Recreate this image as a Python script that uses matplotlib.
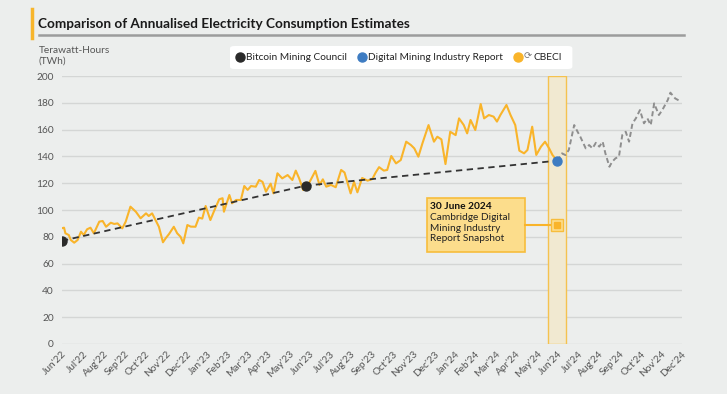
import numpy as np
import pandas as pd
import matplotlib.pyplot as plt
import matplotlib.dates as mdates
from matplotlib.lines import Line2D
from matplotlib.patches import Rectangle, FancyBboxPatch

plt.rcParams['font.family'] = ['Lato', 'DejaVu Sans']

# CBECI estimate (TWh)
cbeci_dates = [
    '2022-06-29', '2022-07-03', '2022-07-05', '2022-07-10', '2022-07-13', '2022-07-18',
    '2022-07-23', '2022-07-28', '2022-08-01', '2022-08-06', '2022-08-11', '2022-08-16',
    '2022-08-24', '2022-08-29', '2022-09-03', '2022-09-10', '2022-09-15', '2022-09-20',
    '2022-09-27', '2022-10-02', '2022-10-09', '2022-10-17', '2022-10-24', '2022-11-01',
    '2022-11-05', '2022-11-10', '2022-11-15', '2022-11-20', '2022-11-26', '2022-11-30',
    '2022-12-05', '2022-12-12', '2022-12-17', '2022-12-22', '2022-12-26', '2023-01-01',
    '2023-01-06', '2023-01-13', '2023-01-18', '2023-01-23', '2023-01-28', '2023-02-04',
    '2023-02-09', '2023-02-17', '2023-02-22', '2023-02-24', '2023-03-04', '2023-03-08',
    '2023-03-14', '2023-03-21', '2023-03-26', '2023-03-31', '2023-04-05', '2023-04-12',
    '2023-04-17', '2023-04-22', '2023-04-27', '2023-05-04', '2023-05-08', '2023-05-14',
    '2023-05-21', '2023-05-29', '2023-06-05', '2023-06-10', '2023-06-15', '2023-06-21',
    '2023-06-27', '2023-07-02', '2023-07-09', '2023-07-15', '2023-07-20', '2023-07-25',
    '2023-08-01', '2023-08-08', '2023-08-16', '2023-08-21', '2023-08-25', '2023-08-30',
    '2023-09-04', '2023-09-09', '2023-09-16', '2023-09-24', '2023-10-01', '2023-10-06',
    '2023-10-11', '2023-10-18', '2023-10-23', '2023-10-29', '2023-11-05', '2023-11-12',
    '2023-11-20', '2023-11-27', '2023-12-02', '2023-12-08', '2023-12-14', '2023-12-23',
    '2023-12-31', '2024-01-05', '2024-01-11', '2024-01-17', '2024-01-24', '2024-02-01',
    '2024-02-06', '2024-02-13', '2024-02-18', '2024-02-23', '2024-03-01', '2024-03-09',
    '2024-03-14', '2024-03-21', '2024-03-28', '2024-04-02', '2024-04-07', '2024-04-16',
    '2024-04-22', '2024-04-29', '2024-05-05', '2024-05-12', '2024-05-17', '2024-05-24',
    '2024-05-30', '2024-06-06', '2024-06-12', '2024-06-18', '2024-06-23', '2024-06-28',
]
cbeci_values = [
    86.3, 86.8, 82.6, 81.3, 77.6, 75.6,
    77.6, 83.8, 81.3, 85.6, 86.8, 82.6,
    91.3, 91.8, 87.5, 90.5, 89.6, 90.0,
    86.3, 91.3, 102.5, 98.7, 93.8, 97.5,
    95.5, 97.5, 92.5, 87.5, 75.9, 78.9,
    82.1, 87.5, 82.6, 80.0, 75.1, 88.8,
    87.6, 87.5, 94.3, 93.6, 103.0, 92.5,
    98.7, 108.0, 108.8, 98.7, 111.2, 105.0,
    107.5, 107.5, 117.9, 115.0, 117.9, 117.4,
    122.4, 121.0, 113.7, 119.7, 112.4, 127.4,
    123.6, 126.1, 122.4, 129.4, 123.6, 114.9,
    117.4, 122.4, 129.2, 118.7, 122.9, 117.4,
    118.7, 117.0, 129.9, 128.0, 121.0, 112.4,
    121.0, 113.2, 123.9, 121.9, 123.1, 128.0,
    132.0, 129.4, 129.9, 140.3, 134.8, 137.3,
    151.0, 148.5, 146.0, 139.8, 149.8, 163.4,
    151.0, 154.7, 152.7, 134.3, 158.4, 155.9,
    168.4, 163.4, 157.2, 167.2, 159.7, 179.1,
    168.4, 170.9, 169.7, 166.0, 170.9, 178.4,
    170.9, 163.4, 144.3, 142.3, 144.8, 162.2,
    141.1, 147.3, 151.0, 146.0, 141.0, 138.0,
]

# CBECI after the snapshot date (grey dashed)
later_dates = [
    '2024-06-30', '2024-07-07', '2024-07-12', '2024-07-17', '2024-07-25', '2024-07-30',
    '2024-08-03', '2024-08-11', '2024-08-16', '2024-08-21', '2024-08-26', '2024-08-31',
    '2024-09-05', '2024-09-09', '2024-09-15', '2024-09-19', '2024-09-24', '2024-09-29',
    '2024-10-04', '2024-10-09', '2024-10-14', '2024-10-19', '2024-10-24', '2024-10-30',
    '2024-11-05', '2024-11-10', '2024-11-15', '2024-11-20', '2024-11-27', '2024-12-02',
    '2024-12-10', '2024-12-14', '2024-12-21', '2024-12-30',
]
later_values = [
    136.8, 142.3, 141.0, 144.8, 163.4, 158.4,
    154.7, 146.0, 148.5, 146.0, 150.2, 147.3,
    151.0, 142.3, 132.3, 136.0, 138.6, 139.8,
    156.0, 158.4, 151.0, 164.7, 168.4, 174.6,
    164.7, 168.4, 163.4, 179.6, 170.9, 174.6,
    182.0, 187.6, 183.3, 180.8,
]

bmc_dates = ['2022-06-30', '2023-06-25']
bmc_values = [77.0, 118.2]
dmir_date = '2024-06-30'
dmir_value = 136.8

month_labels = ["Jun'22", "Jul'22", "Aug'22", "Sep'22", "Oct'22", "Nov'22", "Dec'22",
                "Jan'23", "Feb'23", "Mar'23", "Apr'23", "May'23", "Jun'23", "Jul'23",
                "Aug'23", "Sep'23", "Oct'23", "Nov'23", "Dec'23", "Jan'24", "Feb'24",
                "Mar'24", "Apr'24", "May'24", "Jun'24", "Jul'24", "Aug'24", "Sep'24",
                "Oct'24", "Nov'24", "Dec'24"]

bg = '#ECEEED'
orange = '#F9B42A'

cbeci_x = pd.to_datetime(cbeci_dates)
later_x = pd.to_datetime(later_dates)
bmc_x = pd.to_datetime(bmc_dates)
dmir_x = pd.Timestamp(dmir_date)
month_ticks = pd.date_range('2022-06-30', periods=len(month_labels), freq='ME')

fig = plt.figure(figsize=(7.27, 3.94), dpi=100, facecolor=bg)
ax = fig.add_axes([0.0853, 0.127, 0.8527, 0.68], facecolor=bg)

# highlight band around the snapshot date
band_l = mdates.date2num(pd.Timestamp('2024-06-17'))
band_r = mdates.date2num(pd.Timestamp('2024-07-13'))
ax.add_patch(Rectangle((band_l, 0), band_r - band_l, 200, facecolor='#F1E9D1',
                       edgecolor='#F5C24F', lw=1.0, zorder=1))

ax.plot(cbeci_x, cbeci_values, color=orange, lw=1.5, zorder=3)
ax.plot(later_x, later_values, color='#8E8E8E', lw=1.4, ls=(0, (2.6, 1.6)), zorder=3)

# trend line between the reports
trend_x = list(bmc_x) + [dmir_x]
trend_y = bmc_values + [dmir_value]
ax.plot(trend_x, trend_y, color='#333333', lw=1.3, ls=(0, (3.5, 2.5)), zorder=4)
ax.scatter(bmc_x, bmc_values, s=42, color='#2A2A2A', zorder=5)
ax.scatter([dmir_x], [dmir_value], s=42, color='#3E7CC2', zorder=5)

# annotation box
box_l = mdates.date2num(pd.Timestamp('2023-12-21'))
box_r = mdates.date2num(pd.Timestamp('2024-05-14'))
ax.add_patch(Rectangle((box_l, 69), box_r - box_l, 40, facecolor='#FCDD8C',
                       edgecolor='#F7BD3C', lw=1.2, zorder=6))
ax.plot([box_r, mdates.date2num(dmir_x)], [88.8, 88.8], color=orange, lw=1.5, zorder=6)
ax.plot([dmir_x], [88.8], marker='s', ms=8, mfc='#FCDD8C', mec='#F7BD3C', mew=1, zorder=7)
ax.plot([dmir_x], [88.8], marker='s', ms=4.5, mfc=orange, mec=orange, zorder=8)
ax.text(box_l + 4, 106.3, '30 June 2024', fontsize=7.3, fontweight='bold', va='top',
        color='#111111', zorder=7)
ax.text(box_l + 4, 97.6, 'Cambridge Digital\nMining Industry\nReport Snapshot', fontsize=7.3,
        va='top', linespacing=1.2, color='#222222', zorder=7)

ax.set_ylim(0, 200)
ax.set_yticks(range(0, 201, 20))
ax.set_xlim(month_ticks[0], month_ticks[-1])
ax.set_xticks(month_ticks)
ax.set_xticklabels(month_labels, rotation=45, ha='right', va='top', rotation_mode='anchor')
ax.tick_params(axis='both', length=0, labelsize=7.3, labelcolor='#555555')
ax.tick_params(axis='x', pad=4)
ax.tick_params(axis='y', pad=6)
ax.grid(axis='y', color='#D4D6D5', lw=1)
ax.set_axisbelow(True)
for s in ax.spines.values():
    s.set_visible(False)

fig.canvas.draw()
renderer = fig.canvas.get_renderer()
W, H = fig.bbox.width, fig.bbox.height

# title block
fig.add_artist(Line2D([31.5 / W, 31.5 / W], [1 - 38 / H, 1 - 9 / H], color='#F7B52C', lw=2.5))
title = fig.text(38.5 / W, 1 - 24 / H, 'Comparison of Annualised Electricity Consumption Estimates',
                 fontsize=10.5, fontweight='bold', va='center', color='#1A1A1A')
tw = title.get_window_extent(renderer).width
title.set_fontsize(10.5 * 373 / tw)
fig.add_artist(Line2D([38.5 / W, 684 / W], [1 - 35 / H, 1 - 35 / H], color='#9C9C9C', lw=1.8))
fig.text(38.5 / W, 1 - 55.5 / H, 'Terawatt-Hours\n(TWh)', fontsize=7.3, va='center',
         color='#555555', linespacing=1.25)

# legend, laid out from measured text widths
ly = 1 - 57 / H
items = [('#2A2A2A', 'Bitcoin Mining Council', False),
         ('#3E7CC2', 'Digital Mining Industry Report', False),
         (orange, 'CBECI', True)]
x = 240.0
left_edge = x - 10
for col, lab, icon in items:
    fig.add_artist(Line2D([x / W], [ly], marker='o', ms=6.5, color=col, lw=0))
    tx = x + 6
    if icon:
        ic = fig.text(tx / W, ly, '\u27F3', fontsize=7, va='center', color='#777777')
        tx += ic.get_window_extent(renderer).width + 2
    t = fig.text(tx / W, ly, lab, fontsize=7.3, va='center', color='#222222')
    end = tx + t.get_window_extent(renderer).width
    x = end + 15
fig.patches.insert(0, FancyBboxPatch((left_edge / W, 1 - 69 / H), (end + 10 - left_edge) / W, 23 / H,
                                     transform=fig.transFigure,
                                     boxstyle='round,pad=0,rounding_size=0.006',
                                     facecolor='white', edgecolor='none'))

fig.savefig('out.png', dpi=100, facecolor=bg)
